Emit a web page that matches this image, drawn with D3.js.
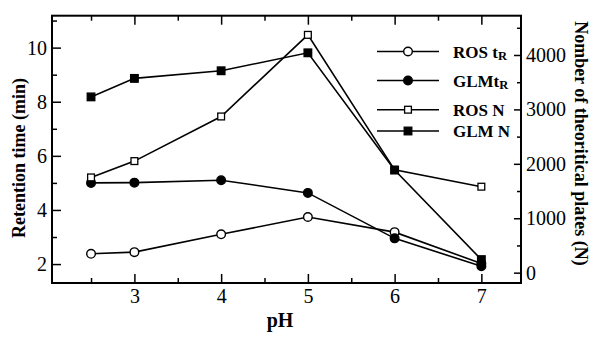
<!DOCTYPE html>
<html>
<head>
<meta charset="utf-8">
<script src="https://cdn.jsdelivr.net/npm/d3@7"></script>
<style>
  body { margin: 0; background: #fff; }
  svg { display: block; }
  text { font-family: "Liberation Serif", "Times New Roman", serif; fill: #000; }
</style>
</head>
<body>
<svg id="chart" width="600" height="343"></svg>
<script>
// data
const ph = [2.5, 3, 4, 5, 6, 7]
const ros_tr = [2.38, 2.44, 3.1, 3.74, 3.18, 2.02]   // min
const glm_tr = [5.0, 5.01, 5.1, 4.63, 2.95, 1.92]     // min
const ros_n = [1750, 2050, 2870, 4370, 1890, 1580]    // plates
const glm_n = [3230, 3570, 3710, 4040, 1885, 240]     // plates

const x_ticks = [3, 4, 5, 6, 7]
const x_minor = [2.5, 3.5, 4.5, 5.5, 6.5]
const left_ticks = [2, 4, 6, 8, 10]
const left_minor = [3, 5, 7, 9, 11]
const right_ticks = [0, 1000, 2000, 3000, 4000]
const right_minor = [500, 1500, 2500, 3500, 4500]

const series_list = [
    { label: 'ROS t', sub: 'R', values: ros_tr, axis: 'left', shape: 'circle', filled: false },
    { label: 'GLMt', sub: 'R', values: glm_tr, axis: 'left', shape: 'circle', filled: true },
    { label: 'ROS N', sub: '', values: ros_n, axis: 'right', shape: 'square', filled: false },
    { label: 'GLM N', sub: '', values: glm_n, axis: 'right', shape: 'square', filled: true },
]

const frame = { left: 52, right: 521, top: 15.7, bottom: 283 }

const svg = d3.select('#chart')

const xScale = d3.scaleLinear().domain([2.05, 7.457]).range([frame.left, frame.right])
const yLeft = d3.scaleLinear().domain([1.3, 11.18]).range([frame.bottom, frame.top])
const yRight = d3.scaleLinear().domain([-190, 4722]).range([frame.bottom, frame.top])

// axes, ticks pointing into the frame
function styleAxis(g) {
    g.select('.domain').remove()
    g.attr('font-family', null)
    g.selectAll('line').attr('stroke', '#000').attr('stroke-width', 1.5)
    g.selectAll('text').attr('font-size', 20)
}

function addAxis(axis, transform) {
    svg.append('g')
       .attr('transform', transform)
       .call(axis)
       .call(styleAxis)
}

addAxis(d3.axisBottom(xScale).tickValues(x_ticks).tickSize(-9).tickPadding(5.5).tickFormat(d3.format('d')), `translate(0,${frame.bottom})`)
addAxis(d3.axisBottom(xScale).tickValues(x_minor).tickSize(-5).tickFormat(''), `translate(0,${frame.bottom})`)
addAxis(d3.axisTop(xScale).tickValues(x_ticks).tickSize(-9).tickFormat(''), `translate(0,${frame.top})`)
addAxis(d3.axisTop(xScale).tickValues(x_minor).tickSize(-5).tickFormat(''), `translate(0,${frame.top})`)

addAxis(d3.axisLeft(yLeft).tickValues(left_ticks).tickSize(-9).tickPadding(5).tickFormat(d3.format('d')), `translate(${frame.left},0)`)
addAxis(d3.axisLeft(yLeft).tickValues(left_minor).tickSize(-5).tickFormat(''), `translate(${frame.left},0)`)

addAxis(d3.axisRight(yRight).tickValues(right_ticks).tickSize(-7).tickPadding(5).tickFormat(d3.format('d')), `translate(${frame.right},0)`)
addAxis(d3.axisRight(yRight).tickValues(right_minor).tickSize(-4).tickFormat(''), `translate(${frame.right},0)`)

// frame
svg.append('rect')
   .attr('x', frame.left)
   .attr('y', frame.top)
   .attr('width', frame.right - frame.left)
   .attr('height', frame.bottom - frame.top)
   .attr('fill', 'none')
   .attr('stroke', '#000')
   .attr('stroke-width', 2)

// axis titles
svg.append('text')
   .attr('transform', 'translate(25,158) rotate(-90)')
   .attr('text-anchor', 'middle')
   .attr('font-size', 18)
   .attr('font-weight', 'bold')
   .text('Retention time (min)')
svg.append('text')
   .attr('transform', 'translate(575,143.5) rotate(90)')
   .attr('text-anchor', 'middle')
   .attr('font-size', 18)
   .attr('font-weight', 'bold')
   .text('Nomber of theoritical plates (N)')
svg.append('text')
   .attr('x', 280)
   .attr('y', 327)
   .attr('text-anchor', 'middle')
   .attr('font-size', 20)
   .attr('font-weight', 'bold')
   .text('pH')

function drawMarker(g, s, cx, cy) {
    if (s.shape === 'circle') {
        g.append('circle')
         .attr('cx', cx).attr('cy', cy).attr('r', 4.3)
         .attr('fill', s.filled ? '#000' : '#fff')
         .attr('stroke', '#000').attr('stroke-width', 1.4)
    } else {
        const half = s.filled ? 3.8 : 3.4
        g.append('rect')
         .attr('x', cx - half).attr('y', cy - half)
         .attr('width', half * 2).attr('height', half * 2)
         .attr('fill', s.filled ? '#000' : '#fff')
         .attr('stroke', '#000').attr('stroke-width', 1.3)
    }
}

// series lines + markers
const line_layer = svg.append('g')
for (let i in series_list) {
    const s = series_list[i]
    const yScale = s.axis === 'left' ? yLeft : yRight
    const line = d3.line().x((d, j) => xScale(ph[j])).y(d => yScale(d))
    let g = line_layer.append('g').attr('class', 'series')
    g.append('path')
     .attr('d', line(s.values))
     .attr('fill', 'none')
     .attr('stroke', '#000')
     .attr('stroke-width', 1.6)
    s.values.forEach((v, j) => drawMarker(g, s, xScale(ph[j]), yScale(v)))
}

// legend
const legend_rows = [51.5, 80.5, 109.7, 131]
const legend = svg.append('g').attr('class', 'legend')
series_list.forEach((s, i) => {
    const y = legend_rows[i]
    legend.append('line')
          .attr('x1', 377).attr('x2', 439)
          .attr('y1', y).attr('y2', y)
          .attr('stroke', '#000').attr('stroke-width', 1.6)
    drawMarker(legend, s, 408, y)
    let t = legend.append('text')
                  .attr('x', 453)
                  .attr('y', y + 6)
                  .attr('font-size', 17)
                  .attr('font-weight', 'bold')
    t.append('tspan').text(s.label)
    if (s.sub) t.append('tspan').attr('font-size', 12.5).attr('dy', 2).text(s.sub)
})
</script>
</body>
</html>
